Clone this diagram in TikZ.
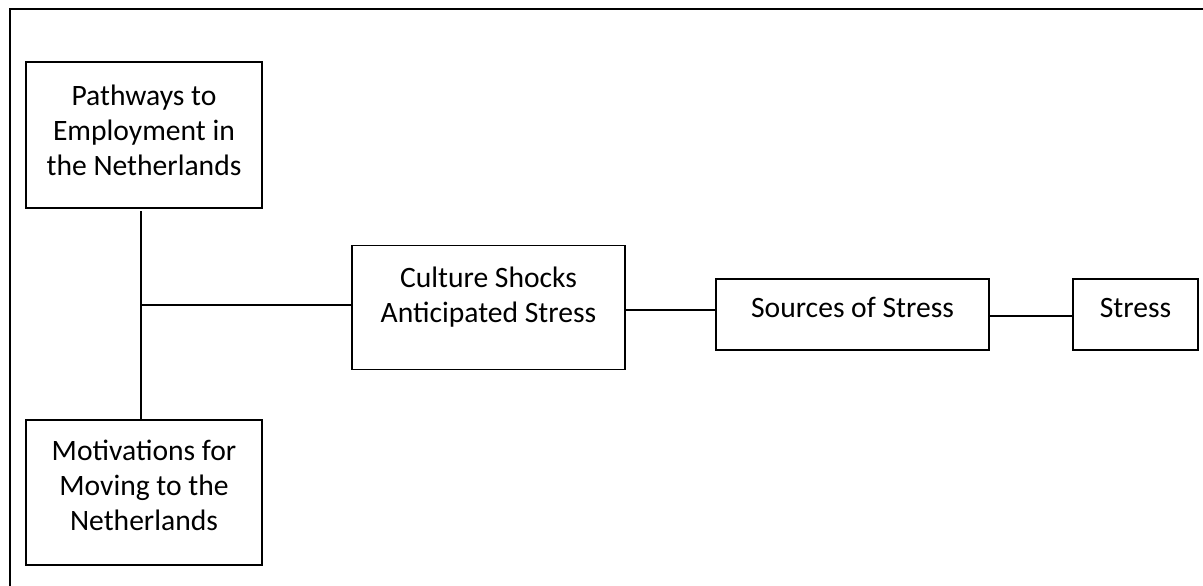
\documentclass[tikz,border=0pt]{standalone}
\usepackage{fontspec}
\setmainfont{Carlito}
\begin{document}
\begin{tikzpicture}[x=0.5pt,y=-0.5pt,
  box/.style={draw=black,line width=0.65pt,inner sep=0pt},
  txt/.style={align=center,inner sep=0pt,font=\fontsize{14.8}{17.5}\selectfont},
  link/.style={draw=black,line width=0.75pt}]
\useasboundingbox (0,0) rectangle (1203,585);
\begin{scope}
\clip (0,0) rectangle (1203,585);
\draw[line width=1pt] (10,600) -- (10,9) -- (1220,9);
\end{scope}
% boxes
\node[box,minimum width=118pt,minimum height=73pt] (path) at (144,135) {};
\node[txt] (pathT) at (144,130) {Pathways to\\Employment in\\the Netherlands};
\node[box,minimum width=118pt,minimum height=72.5pt] (motiv) at (144,492.5) {};
\node[txt] (motivT) at (144,485) {Motivations for\\Moving to the\\Netherlands};
\node[box,minimum width=136.5pt,minimum height=62pt] (cult) at (488.5,307.5) {};
\node[txt] (cultT) at (488.5,297) {Culture Shocks\\Anticipated Stress};
\node[box,minimum width=136.5pt,minimum height=35.5pt] (src) at (852.5,314.5) {};
\node[txt,anchor=base] (srcT) at (852.5,317) {Sources of Stress};
\node[box,minimum width=62.5pt,minimum height=35.5pt] (stress) at (1135.5,314.5) {};
\node[txt,anchor=base] (stressT) at (1135.5,317) {Stress};
% connectors
\coordinate (j) at (141,305);
\coordinate (jt) at (141,211);
\draw[link] (jt) -- (motiv.north -| jt);
\draw[link] (j) -- (j -| cult.west);
\coordinate (c2) at (625,310);
\draw[link] (c2 -| cult.east) -- (c2 -| src.west);
\coordinate (c3) at (989,316);
\draw[link] (c3 -| src.east) -- (c3 -| stress.west);
\end{tikzpicture}
\end{document}
